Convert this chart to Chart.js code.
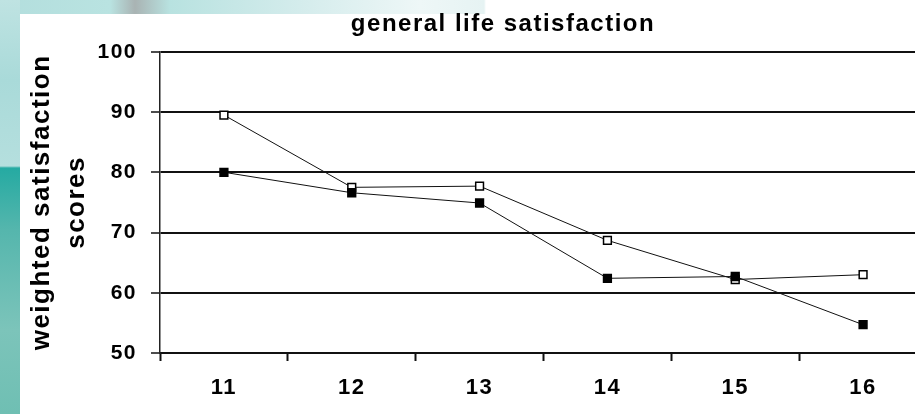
<!DOCTYPE html>
<html>
<head>
<meta charset="utf-8">
<script src="https://cdn.jsdelivr.net/npm/chart.js@4/dist/chart.umd.min.js"></script>
<style>
    html, body {
        margin: 0;
        padding: 0;
        width: 915px;
        height: 414px;
        overflow: hidden;
    }
    body {
        position: relative;
        background: linear-gradient(90deg, #b3dedd 0px, #b9e3e1 110px, #a9b3b3 135px, #b8e2e0 170px, #d4ecec 300px, #eef7f7 420px, #e6f3f3 484px, #ffffff 486px);
    }
    #side {
        position: absolute;
        left: 0;
        top: 0;
        width: 20px;
        height: 414px;
        background: linear-gradient(180deg, #bfe3e2 0px, #a9dad9 80px, #b5dfde 166px, #25aaa2 168px, #55b6ad 230px, #7cc4ba 330px, #6fbfb3 414px);
    }
    #panel {
        position: absolute;
        left: 20px;
        top: 14px;
        width: 900px;
        height: 400px;
        background: #ffffff;
    }
    #myChart {
        position: absolute;
        left: 20px;
        top: 0;
    }
</style>
</head>
<body>
<div id="side"></div>
<div id="panel"></div>
<canvas id="myChart" width="920" height="414"></canvas>
<script>
let ages = ['11', '12', '13', '14', '15', '16'];
let filledScores = [80.0, 76.6, 74.9, 62.4, 62.7, 54.7];
let openScores = [89.5, 77.5, 77.7, 68.7, 62.2, 63.0];
let yTicks = [50, 60, 70, 80, 90, 100];

// old slide text is spread wide, canvas needs letterSpacing set again after every resize
const spacing = {
    id: 'spacing',
    beforeLayout(chart) {
        chart.ctx.letterSpacing = '1.5px';
    },
    beforeDraw(chart) {
        chart.ctx.letterSpacing = '1.5px';
    }
};

function chart() {
    let ctx = document.getElementById('myChart').getContext('2d');
    new Chart(ctx, {
        type: 'line',
        data: {
            labels: ages,
            datasets: [{
                label: 'filled',
                data: filledScores,
                borderColor: '#111111',
                borderWidth: 1,
                backgroundColor: '#000000',
                pointStyle: 'rect',
                pointRadius: 5.5,
                pointBorderWidth: 1.5,
                pointBorderColor: '#000000',
                pointBackgroundColor: '#000000',
                tension: 0,
                fill: false,
            }, {
                label: 'open',
                data: openScores,
                borderColor: '#111111',
                borderWidth: 1,
                backgroundColor: '#ffffff',
                pointStyle: 'rect',
                pointRadius: 5.5,
                pointBorderWidth: 1.5,
                pointBorderColor: '#000000',
                pointBackgroundColor: '#ffffff',
                tension: 0,
                fill: false,
            }]
        },
        options: {
            responsive: false,
            animation: false,
            layout: {
                // extra left padding pushes the title to the right like on the slide
                padding: { left: 59, right: 13, top: 0, bottom: 11 }
            },
            plugins: {
                legend: { display: false },
                tooltip: { enabled: false },
                title: {
                    display: true,
                    text: 'general life satisfaction',
                    color: '#000000',
                    font: { family: 'Liberation Sans', size: 24, weight: 'bold', lineHeight: 1.2 },
                    padding: { top: 10, bottom: 13 }
                }
            },
            scales: {
                x: {
                    offset: true,
                    afterFit: (scale) => { scale.height = 50; },
                    grid: {
                        offset: true,
                        drawOnChartArea: false,
                        drawTicks: true,
                        tickLength: 8,
                        tickWidth: 2,
                        tickColor: '#111111'
                    },
                    border: { display: true, color: '#111111', width: 2 },
                    ticks: {
                        color: '#000000',
                        padding: 14,
                        maxRotation: 0,
                        font: { family: 'Liberation Sans', size: 22, weight: 'bold', lineHeight: 1.2 }
                    }
                },
                y: {
                    min: yTicks[0],
                    max: yTicks[yTicks.length - 1],
                    afterFit: (scale) => { scale.width = 81; },
                    afterBuildTicks: (scale) => {
                        scale.ticks = yTicks.map((v) => ({ value: v }));
                    },
                    grid: {
                        color: '#111111',
                        lineWidth: 2,
                        drawTicks: true,
                        tickLength: 9,
                        tickWidth: 1.5,
                        tickColor: '#111111'
                    },
                    border: { display: true, color: '#222222', width: 1.5 },
                    ticks: {
                        color: '#000000',
                        padding: 14,
                        font: { family: 'Liberation Sans', size: 21, weight: 'bold' }
                    },
                    title: {
                        display: true,
                        text: ['weighted satisfaction', 'scores'],
                        color: '#000000',
                        padding: { top: -54.5, bottom: 0 },
                        font: { family: 'Liberation Sans', size: 26, weight: 'bold', lineHeight: 1.35 }
                    }
                }
            }
        },
        plugins: [spacing]
    });
}

window.addEventListener('DOMContentLoaded', (event) => {
    chart();
});
</script>
</body>
</html>
